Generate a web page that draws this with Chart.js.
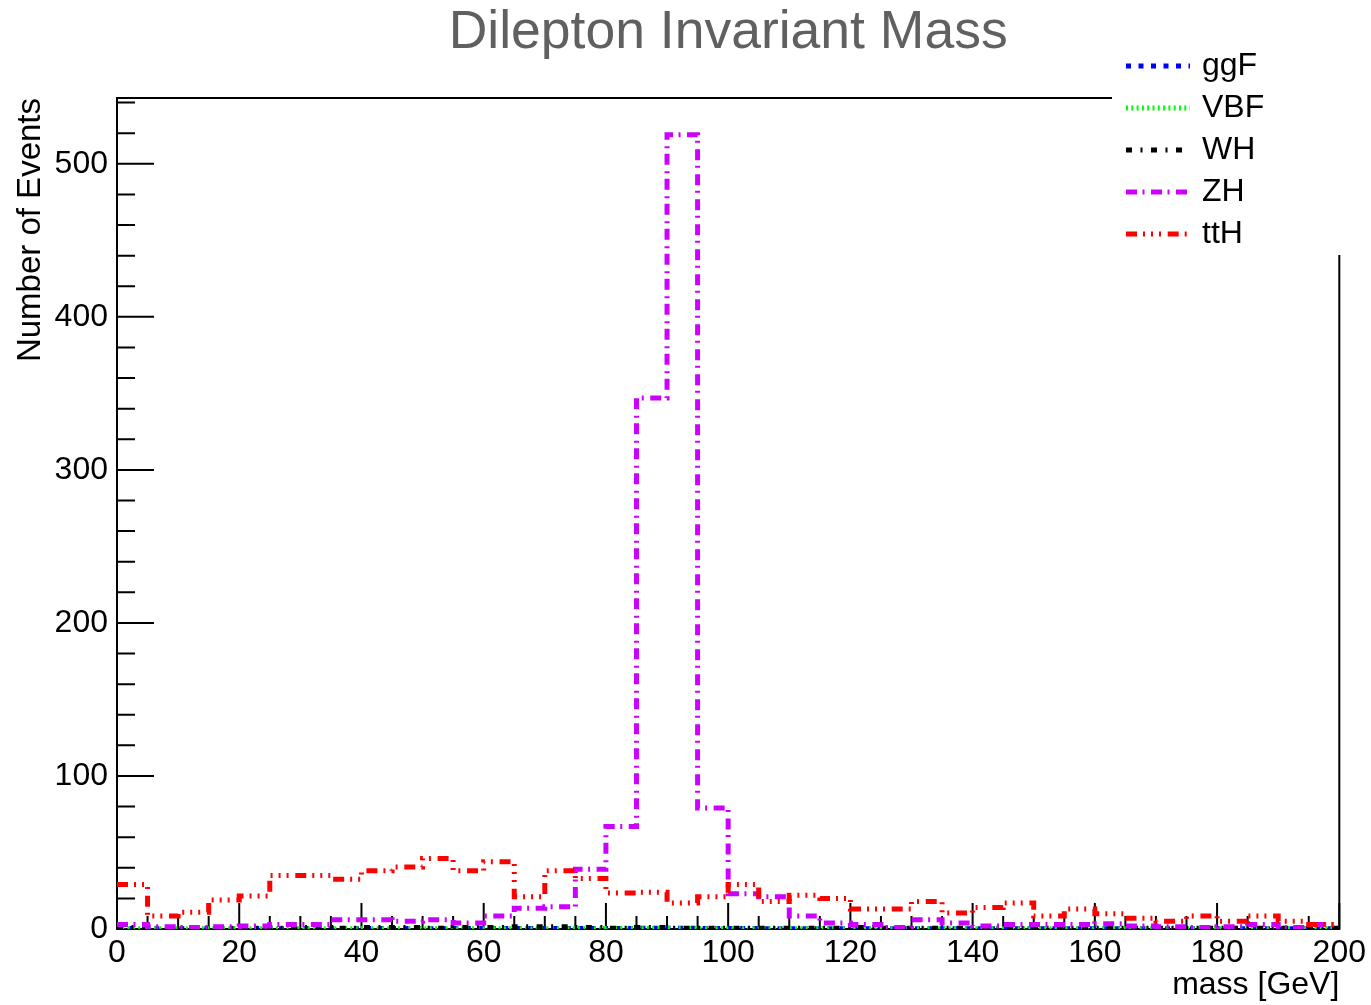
<!DOCTYPE html>
<html><head><meta charset="utf-8">
<script src="https://cdn.jsdelivr.net/npm/chart.js@4/dist/chart.umd.min.js"></script>
<style>html,body{margin:0;padding:0;background:#fff;overflow:hidden;}</style>
</head><body>
<canvas id="c" width="1371" height="1005"></canvas>
<script>
// ---- data (bin low edges in GeV, 5 GeV bins) ----
const binLowEdges = [0,5,10,15,20,25,30,35,40,45,50,55,60,65,70,75,80,85,90,95,100,105,110,115,120,125,130,135,140,145,150,155,160,165,170,175,180,185,190,195];
const binUpperEdge = 200;
const seriesNames = ['ggF','VBF','WH','ZH','ttH'];
const ggF = [0.3,0.2,0.2,0.2,0.3,0.2,0.3,0.2,0.3,0.3,0.2,0.3,0.3,0.3,0.3,0.3,0.4,0.5,0.5,0.3,0.3,0.2,0.2,0.2,0.2,0.2,0.2,0.2,0.2,0.2,0.2,0.2,0.2,0.2,0.2,0.2,0.2,0.2,0.2,0.2];
const VBF = [0.2,0.2,0.2,0.2,0.2,0.2,0.2,0.2,0.2,0.2,0.2,0.2,0.2,0.2,0.2,0.2,0.3,0.3,0.3,0.2,0.2,0.2,0.2,0.2,0.2,0.2,0.2,0.2,0.2,0.2,0.2,0.2,0.2,0.2,0.2,0.2,0.2,0.2,0.2,0.2];
const WH  = [1,0.5,0.5,0.5,0.5,0.5,1,0.5,1,1,0.5,1,1,1.5,1.5,1,0.5,1,0.5,0.5,0.5,0.5,0.5,0.5,1,0.5,0.5,0.5,0.5,0.5,0.5,0.5,0.5,0.5,0.5,0.5,0.5,0.5,0.5,0.5];
const ZH  = [3,1.5,1,1.5,2,3,3,6,6,5,6,4,8.5,13.5,14.5,39,67,347,519,79,23,21,8.5,4,3,1,6,4,2,3,3,3,3.5,2,1.5,1,1.5,3,1,3];
const ttH = [29,8.5,11,19,21.5,35,35,32.5,38,40.5,46,38,44,21,38,33,23.5,24,17,21,29,18,22,20,13,13,18,10.5,14,17,8.5,13,10,7,5,8.5,5,8.5,5,3];
const xTickLabels = [0,20,40,60,80,100,120,140,160,180,200];
const xMinorTicks = [5,10,15,25,30,35,45,50,55,65,70,75,85,90,95,105,110,115,125,130,135,145,150,155,165,170,175,185,190,195];
const yTickLabels = [0,100,200,300,400,500];
const yMinorTicks = [20,40,60,80,120,140,160,180,220,240,260,280,320,340,360,380,420,440,460,480,520,540];
const yMax = 543;

const FONT = '"Liberation Sans", Arial, Helvetica, sans-serif';

function stepPoints(values) {
  const pts = binLowEdges.map((x, i) => ({x: x, y: values[i]}));
  pts.push({x: binUpperEdge, y: values[values.length - 1]});
  return pts;
}

const styles = {
  ggF: {color: '#0000ff', dash: [5, 7.5], width: 5, order: 4},
  VBF: {color: '#00ff00', dash: [2, 3.3], width: 5, order: 3},
  WH:  {color: '#000000', dash: [6, 8.5, 2, 8.5], width: 5, order: 2},
  ZH:  {color: '#cc00ff', dash: [11, 5.5, 2, 6.5], width: 5, order: 1},
  ttH: {color: '#ff0000', dash: [11, 6, 2, 6, 2, 6, 2, 6.7], width: 5, order: 0}
};
const seriesValues = {ggF, VBF, WH, ZH, ttH};

const datasets = seriesNames.map(name => ({
  label: name,
  data: stepPoints(seriesValues[name]),
  borderColor: styles[name].color,
  backgroundColor: styles[name].color,
  borderWidth: styles[name].width,
  borderDash: styles[name].dash,
  stepped: 'before',
  pointRadius: 0,
  fill: false,
  order: styles[name].order
}));

const frameAndTicks = {
  id: 'frameAndTicks',
  beforeDatasetsDraw(chart) {
    const {ctx, chartArea: a, scales: {x, y}} = chart;
    ctx.save();
    ctx.strokeStyle = '#000';
    ctx.lineWidth = 2;
    ctx.setLineDash([]);
    ctx.strokeRect(a.left, a.top, a.right - a.left, a.bottom - a.top);
    ctx.beginPath();
    yTickLabels.forEach(v => { const p = y.getPixelForValue(v); ctx.moveTo(a.left, p); ctx.lineTo(a.left + 37, p); });
    yMinorTicks.forEach(v => { const p = y.getPixelForValue(v); ctx.moveTo(a.left, p); ctx.lineTo(a.left + 18, p); });
    xTickLabels.forEach(v => { const p = x.getPixelForValue(v); ctx.moveTo(p, a.bottom); ctx.lineTo(p, a.bottom - 26); });
    xMinorTicks.forEach(v => { const p = x.getPixelForValue(v); ctx.moveTo(p, a.bottom); ctx.lineTo(p, a.bottom - 13); });
    ctx.stroke();
    ctx.restore();
  },
  afterDraw(chart) {
    const {ctx} = chart;
    ctx.save();
    ctx.fillStyle = '#fff';
    ctx.fillRect(1112, 40, 259, 215);
    const ys = [66, 108, 150, 192, 234];
    chart.data.datasets.forEach((ds, i) => {
      ctx.strokeStyle = ds.borderColor;
      ctx.lineWidth = ds.borderWidth;
      ctx.setLineDash(ds.borderDash);
      ctx.beginPath();
      ctx.moveTo(1126, ys[i]);
      ctx.lineTo(1190, ys[i]);
      ctx.stroke();
      ctx.setLineDash([]);
      ctx.fillStyle = '#000';
      ctx.font = '32px ' + FONT;
      ctx.textBaseline = 'middle';
      ctx.textAlign = 'left';
      ctx.fillText(ds.label, 1202, ys[i]);
    });
    ctx.restore();
  }
};

Chart.defaults.font.family = FONT;
Chart.defaults.color = '#000';

new Chart(document.getElementById('c'), {
  type: 'line',
  data: {datasets},
  options: {
    responsive: false,
    animation: false,
    devicePixelRatio: 1,
    layout: {padding: {left: 0, right: 30, top: 0, bottom: 0}},
    plugins: {
      legend: {display: false},
      tooltip: {enabled: false},
      title: {
        display: true,
        fullSize: false,
        text: 'Dilepton Invariant Mass',
        color: '#606060',
        font: {size: 53.5, weight: 'normal', family: FONT},
        padding: {top: 1, bottom: 32.8}
      }
    },
    scales: {
      x: {
        type: 'linear',
        min: 0, max: 200,
        grid: {display: false, drawTicks: false},
        border: {display: false},
        ticks: {stepSize: 20, includeBounds: false, padding: 5, maxRotation: 0, autoSkip: false, font: {size: 32}, color: '#000'},
        title: {display: true, text: 'mass [GeV]', align: 'end', font: {size: 32}, color: '#000', padding: {top: 0, bottom: 0.8}},
        afterFit(scale) { scale.height = 76; }
      },
      y: {
        type: 'linear',
        min: 0, max: yMax,
        grid: {display: false, drawTicks: false},
        border: {display: false},
        ticks: {stepSize: 100, includeBounds: false, padding: 9, font: {size: 32}, color: '#000'},
        title: {display: true, text: 'Number of Events', align: 'end', font: {size: 33}, color: '#000', padding: {top: 11.2, bottom: 0}},
        afterFit(scale) { scale.width = 117; }
      }
    }
  },
  plugins: [frameAndTicks]
});
</script>
</body></html>
